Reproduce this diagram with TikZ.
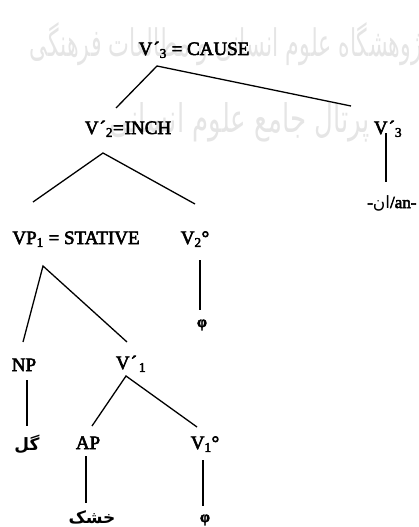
\documentclass[tikz,border=0pt]{standalone}
\usepackage{fontspec}
\setmainfont{Liberation Serif}[RawFeature={embolden=3}]
\newfontfamily\arabicfont[Script=Arabic]{DejaVu Sans}
\TeXXeTstate=1
\begin{document}
\begin{tikzpicture}[x=1pt,y=-1pt,
  lbl/.style={inner sep=0pt, anchor=base, font=\fontsize{19}{22}\selectfont},
  fa/.style={inner sep=0pt, anchor=center, font=\fontsize{17}{20}\selectfont\arabicfont\bfseries},
  phi/.style={inner sep=0pt, anchor=center, font=\fontsize{16}{18}\selectfont\bfseries},
  wm/.style={inner sep=0pt, text=black!10, font=\arabicfont},
  edge/.style={line width=1.3pt}]
\useasboundingbox (0,0) rectangle (419,527);
% watermark
\node[wm, anchor=east] (wm1) at (430,44) {\resizebox{400pt}{34pt}{\beginR پژوهشگاه علوم انسانی و مطالعات فرهنگی\endR}};
\node[wm, anchor=center] (wm2) at (240,122) {\resizebox{260pt}{30pt}{\beginR پرتال جامع علوم انسانی\endR}};
% labels
\node[lbl] (cause) at (194,55) {V\kern1pt´\textsubscript{3} = CAUSE};
\node[lbl] (inch) at (128,134) {V\kern1pt´\textsubscript{2}=\kern1pt INCH};
\node[lbl] (v3r) at (388,134) {V\kern1pt´\textsubscript{3}};
\node[lbl, anchor=base west, font=\fontsize{17}{20}\selectfont] (an) at (367,208) {-{\arabicfont\beginR ان\endR}/an-};
\node[lbl] (vp1) at (76,244) {VP\textsubscript{1} = STATIVE};
\node[lbl] (v2) at (195,244) {V\textsubscript{2}°};
\node[phi] (phi1) at (202,325) {φ};
\node[lbl] (np) at (24,371) {NP};
\node[lbl] (v1) at (131,369) {V\kern1pt´\kern2pt\textsubscript{1}};
\node[fa] (gol) at (27,444) {\beginR گل\endR};
\node[lbl] (ap) at (88,449) {AP};
\node[lbl] (v1o) at (205,449) {V\textsubscript{1}°};
\node[fa] (khoshk) at (92,517) {\beginR خشک\endR};
\node[phi] (phi2) at (205,520) {φ};
% connector end points
\coordinate (cause-b) at (157,66);
\coordinate (inch-t) at (116,108);
\coordinate (v3r-t) at (351,106);
\coordinate (v3r-b) at (386,133);
\coordinate (an-t) at (386,182);
\coordinate (inch-b) at (103,153);
\coordinate (vp1-t) at (33,202);
\coordinate (v2-t) at (195,204);
\coordinate (v2-b) at (200,260);
\coordinate (phi1-t) at (200,310);
\coordinate (vp1-b) at (43,266);
\coordinate (np-t) at (23,342);
\coordinate (v1-t) at (127,342);
\coordinate (np-b) at (27,380);
\coordinate (gol-t) at (27,426);
\coordinate (v1-b) at (126,376);
\coordinate (ap-t) at (92,426);
\coordinate (v1o-t) at (197,427);
\coordinate (ap-b) at (86,456);
\coordinate (khoshk-t) at (86,503);
\coordinate (v1o-b) at (203,460);
\coordinate (phi2-t) at (203,506);
% connectors
\draw[edge] (inch-t) -- (cause-b) -- (v3r-t);
\draw[edge] (v3r-b) -- (an-t);
\draw[edge] (vp1-t) -- (inch-b) -- (v2-t);
\draw[edge] (v2-b) -- (phi1-t);
\draw[edge] (np-t) -- (vp1-b) -- (v1-t);
\draw[edge] (np-b) -- (gol-t);
\draw[edge] (ap-t) -- (v1-b) -- (v1o-t);
\draw[edge] (ap-b) -- (khoshk-t);
\draw[edge] (v1o-b) -- (phi2-t);
\end{tikzpicture}
\end{document}
